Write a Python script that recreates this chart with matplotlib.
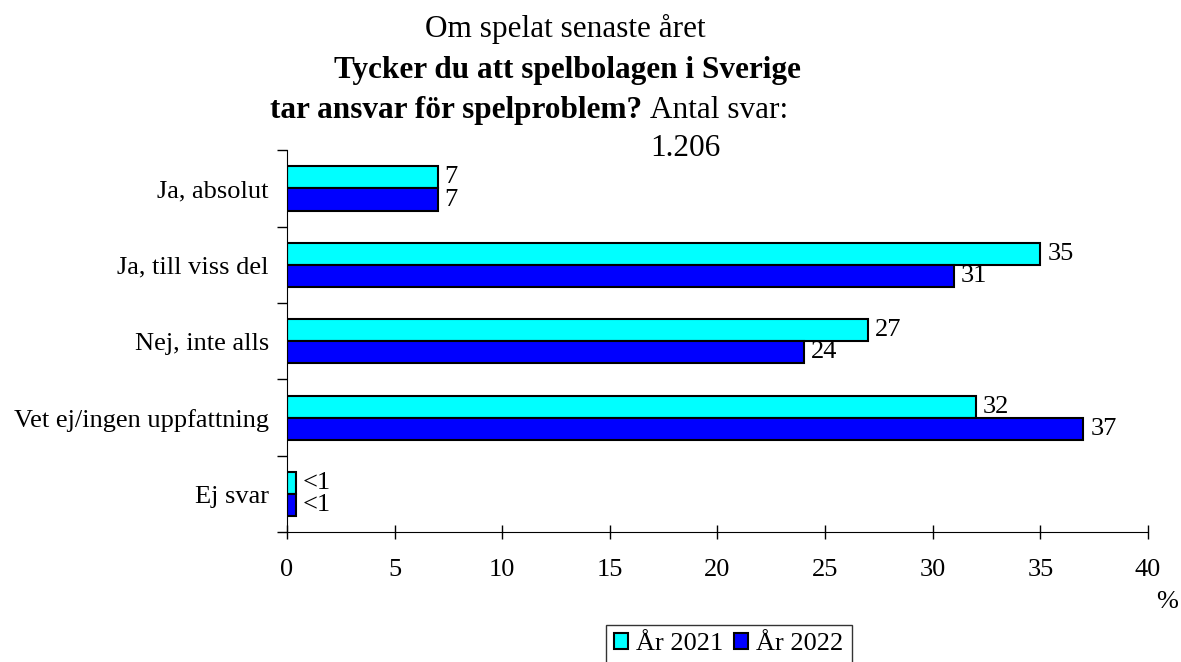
import matplotlib.pyplot as plt
import numpy as np

plt.rcParams["font.family"] = ["Liberation Serif", "DejaVu Serif"]

categories = ["Ja, absolut", "Ja, till viss del", "Nej, inte alls",
              "Vet ej/ingen uppfattning", "Ej svar"]
values_2021 = [7, 35, 27, 32, 0.4]
values_2022 = [7, 31, 24, 37, 0.4]
labels_2021 = ["7", "35", "27", "32", "<1"]
labels_2022 = ["7", "31", "24", "37", "<1"]
series_names = ["År 2021", "År 2022"]
xticks = [0, 5, 10, 15, 20, 25, 30, 35, 40]

fig = plt.figure(figsize=(11.81, 6.62), dpi=100)
ax = fig.add_axes([0.243, 0.196, 0.729, 0.577])

y = np.arange(len(categories))
h = 0.29
b1 = ax.barh(y - h / 2, values_2021, height=h, color="#00FFFF",
             edgecolor="black", linewidth=1.5, label=series_names[0])
b2 = ax.barh(y + h / 2, values_2022, height=h, color="#0000FF",
             edgecolor="black", linewidth=1.5, label=series_names[1])
ax.bar_label(b1, labels=labels_2021, padding=5, fontsize=19)
ax.bar_label(b2, labels=labels_2022, padding=5, fontsize=19)

ax.set_xlim(0, 40)
ax.set_ylim(len(categories) - 0.5, -0.5)
ax.set_xticks(xticks)
ax.set_yticks(y)
ax.set_yticklabels(categories)
ax.set_yticks(np.arange(-0.5, len(categories)), minor=True)
ax.tick_params(axis="y", which="major", length=0, pad=13, labelsize=19)
ax.tick_params(axis="y", which="minor", length=7, width=1)
ax.tick_params(axis="x", which="major", direction="inout", length=10, width=1,
               pad=14, labelsize=19)
for s in ["top", "right"]:
    ax.spines[s].set_visible(False)

fig.text(0.9975, 0.091, "%", ha="right", va="center", fontsize=19)

fig.text(0.479, 0.944, "Om spelat senaste året", ha="center", va="baseline",
         fontsize=22.5)
fig.text(0.4805, 0.882, "Tycker du att spelbolagen i Sverige", ha="center",
         va="baseline", fontsize=22.5, fontweight="bold")
fig.text(0.5436, 0.822, "tar ansvar för spelproblem?", ha="right",
         va="baseline", fontsize=22.5, fontweight="bold")
fig.text(0.5504, 0.822, "Antal svar:", ha="left", va="baseline", fontsize=22.5)
fig.text(0.580, 0.764, "1.206", ha="center", va="baseline", fontsize=22.5)

leg = fig.legend(handles=[b1, b2], loc="upper center", bbox_to_anchor=(0.617, 0.056),
                 ncol=2, frameon=True, fancybox=False, edgecolor="black",
                 fontsize=19, handlelength=0.55, handleheight=0.55,
                 handletextpad=0.3, columnspacing=0.4, borderpad=0.3,
                 borderaxespad=0)
leg.get_frame().set_linewidth(1)

fig.savefig("out.png", dpi=100)
